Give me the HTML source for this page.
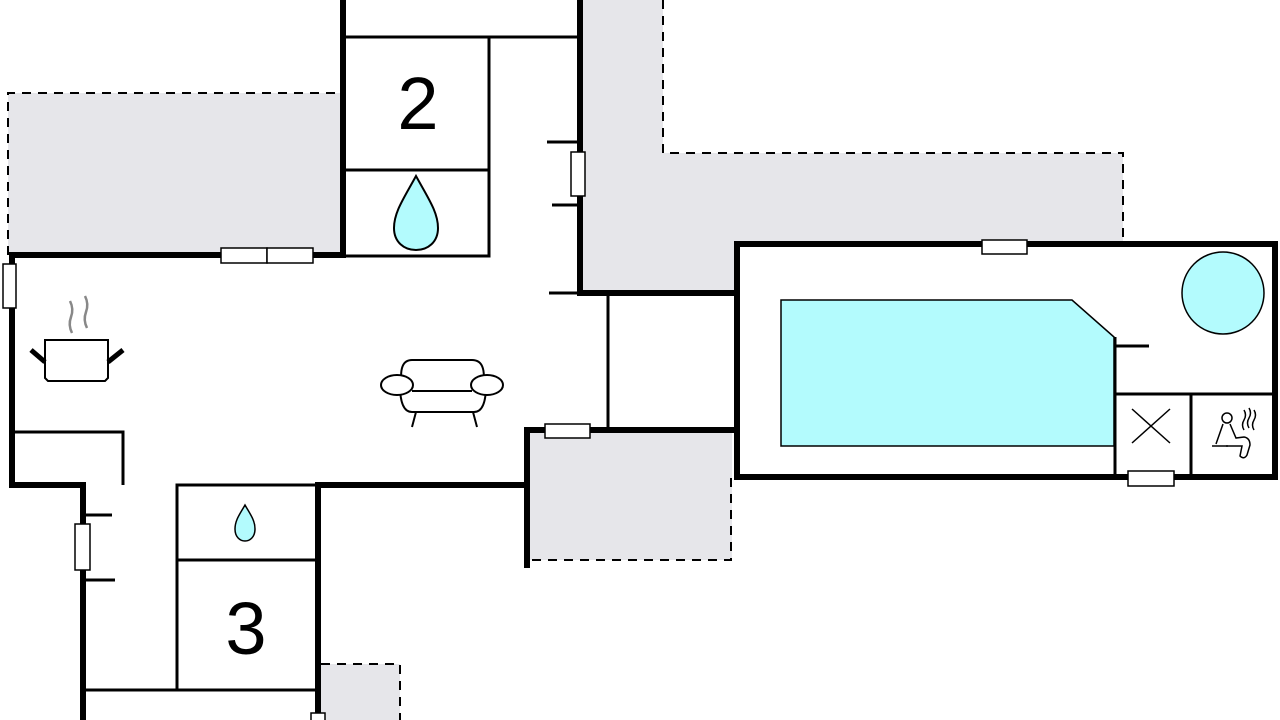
<!DOCTYPE html>
<html><head><meta charset="utf-8"><style>html,body{margin:0;padding:0;background:#fff}svg{display:block}</style></head>
<body>
<svg width="1280" height="720" viewBox="0 0 1280 720" xmlns="http://www.w3.org/2000/svg" font-family="Liberation Sans, sans-serif">
<!-- grey areas -->
<g fill="#e6e6ea" stroke="none">
<rect x="8" y="93" width="335" height="162"/>
<rect x="583" y="0" width="80" height="293"/>
<rect x="583" y="153" width="540" height="90"/>
<rect x="583" y="243" width="152" height="50"/>
<rect x="530" y="433" width="202" height="127"/>
<rect x="321" y="664" width="79" height="56"/>
</g>
<g fill="none" stroke="#000" stroke-width="2" stroke-dasharray="9,7">
<polyline points="8,255 8,93 343,93"/>
<polyline points="663,0 663,153 1123,153 1123,243"/>
<polyline points="731,478 731,560 530,560"/>
<polyline points="321,664 400,664 400,720"/>
</g>
<!-- thin lines -->
<g fill="none" stroke="#000" stroke-width="3">
<line x1="343" y1="37" x2="581" y2="37"/>
<polyline points="343,170 489,170 489,37"/>
<polyline points="343,256 489,256 489,170"/>
<line x1="608" y1="293" x2="608" y2="430"/>
<polyline points="12,432 123,432 123,485"/>
<rect x="177" y="485" width="141" height="75"/>
<rect x="177" y="560" width="141" height="130"/>
<line x1="83" y1="690" x2="318" y2="690"/>
<line x1="547" y1="142" x2="580" y2="142"/>
<line x1="552" y1="205" x2="580" y2="205"/>
<line x1="549" y1="293" x2="580" y2="293"/>
<line x1="83" y1="515" x2="112" y2="515"/>
<line x1="83" y1="580" x2="115" y2="580"/>
<line x1="1115" y1="337" x2="1115" y2="478"/>
<line x1="1115" y1="394" x2="1273" y2="394"/>
<line x1="1191" y1="394" x2="1191" y2="478"/>
<line x1="1115" y1="346" x2="1149" y2="346"/>
</g>
<!-- thick walls -->
<g fill="none" stroke="#000" stroke-width="6" stroke-linecap="square">
<polyline points="343,0 343,255 12,255 12,485 83,485 83,720"/>
<polyline points="580,0 580,293 735,293"/>
<rect x="737" y="244" width="538" height="233"/>
<polyline points="527,565 527,430 737,430"/>
<polyline points="318,720 318,485 527,485"/>
</g>
<!-- windows -->
<g fill="#fff" stroke="#000" stroke-width="1.5">
<rect x="571" y="152" width="14" height="44"/>
<rect x="221" y="248" width="46" height="15"/>
<rect x="267" y="248" width="46" height="15"/>
<rect x="3" y="264" width="13" height="44"/>
<rect x="982" y="240" width="45" height="14"/>
<rect x="1128" y="471" width="46" height="15"/>
<rect x="545" y="424" width="45" height="14"/>
<rect x="75" y="524" width="15" height="46"/>
<rect x="311" y="713" width="14" height="10"/>
</g>
<!-- pool -->
<polygon points="781,300 1072,300 1114,337 1114,446 781,446" fill="#b3fbfd" stroke="#000" stroke-width="1.5"/>
<circle cx="1223" cy="293" r="41" fill="#b3fbfd" stroke="#000" stroke-width="1.5"/>
<!-- drops -->
<path d="M416,176 C404,198 394,212 394,228 C394,242 404,250 416,250 C428,250 438,242 438,228 C438,212 428,198 416,176Z" fill="#b3fbfd" stroke="#000" stroke-width="2"/>
<path d="M245,505 C240,514 235,520 235,529 C235,537 240,541 245,541 C250,541 255,537 255,529 C255,520 250,514 245,505Z" fill="#b3fbfd" stroke="#000" stroke-width="1.5"/>
<!-- X -->
<g stroke="#000" stroke-width="1.5"><line x1="1132" y1="409" x2="1170" y2="443"/><line x1="1170" y1="409" x2="1132" y2="443"/></g>
<!-- sauna -->
<g fill="none" stroke="#000" stroke-width="1.5">
<circle cx="1227" cy="418" r="5"/>
<path d="M1223,424 L1216,444 M1230,424 L1236,438 L1244,437 Q1250,438 1250,445 L1247,455 Q1244,460 1240,456 L1242,446 L1226,446"/>
<line x1="1212" y1="446" x2="1228" y2="446"/>
<path d="M1244,410 q3,5 0,10 q-3,5 0,10 M1249,408 q3,5 0,10 q-3,5 0,10 M1254,410 q3,5 0,10 q-3,5 0,10"/>
</g>
<!-- pot -->
<g fill="none">
<path d="M72,333 q-4,-8 -1,-16 q3,-8 -1,-16" stroke="#888" stroke-width="2.5"/>
<path d="M87,328 q-4,-8 -1,-16 q3,-8 -1,-16" stroke="#888" stroke-width="2.5"/>
<path d="M45,340 L108,340 L108,378 L105,381 L48,381 L45,378Z" stroke="#000" stroke-width="2"/>
<line x1="31" y1="350" x2="45" y2="362" stroke="#000" stroke-width="5"/>
<line x1="123" y1="350" x2="108" y2="362" stroke="#000" stroke-width="5"/>
</g>
<!-- sofa -->
<g fill="#fff" stroke="#000" stroke-width="2">
<path d="M402,386 Q398,360 412,360 L472,360 Q487,360 483,386"/>
<path d="M400,385 Q400,412 412,412 L474,412 Q486,412 486,385"/>
<line x1="412" y1="391" x2="472" y2="391"/>
<ellipse cx="397" cy="385" rx="16" ry="10"/>
<ellipse cx="487" cy="385" rx="16" ry="10"/>
<line x1="416" y1="412" x2="412" y2="427"/><line x1="473" y1="412" x2="477" y2="427"/>
</g>
<text x="418" y="129" font-size="74" text-anchor="middle">2</text>
<text x="246" y="654" font-size="74" text-anchor="middle">3</text>
</svg>
</body></html>
